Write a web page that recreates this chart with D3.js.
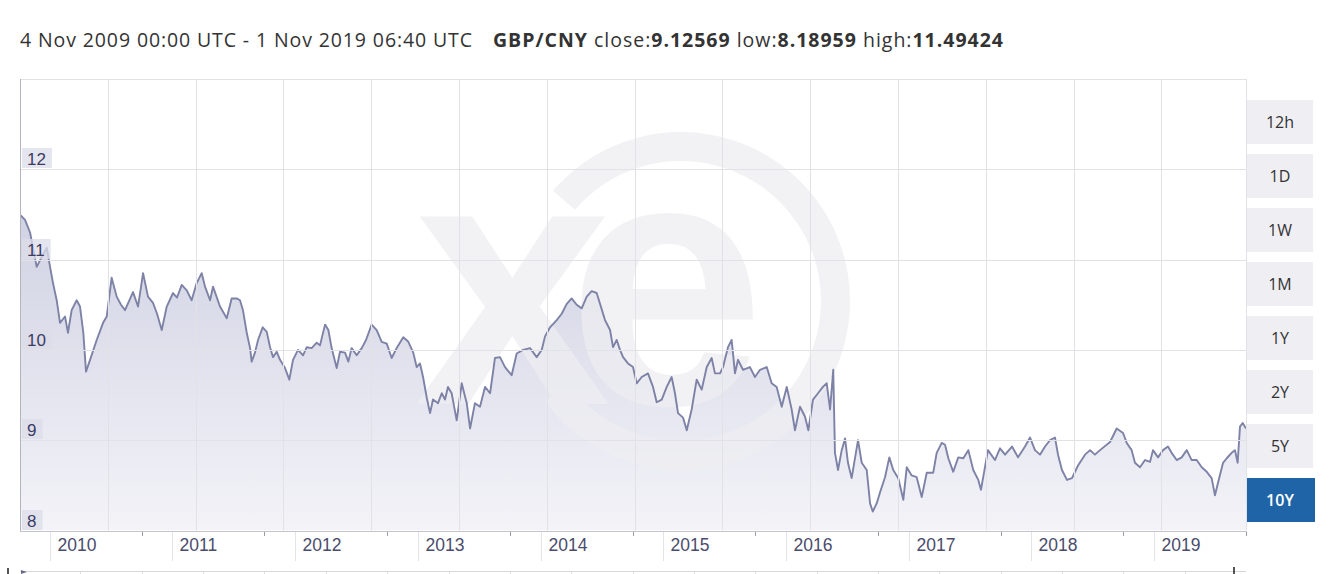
<!DOCTYPE html>
<html>
<head>
<meta charset="utf-8">
<script src="https://cdn.jsdelivr.net/npm/d3@7"></script>
<style>
  html, body { margin: 0; padding: 0; background: #ffffff; }
  svg { display: block; }
</style>
</head>
<body>
<svg id="chart" width="1333" height="574"></svg>
<script>
// ---------------- data ----------------
const pairName = "GBP/CNY";
const rangeLabel = "4 Nov 2009 00:00 UTC - 1 Nov 2019 06:40 UTC";
const statNames = ["close", "low", "high"];
const statValues = ["9.12569", "8.18959", "11.49424"];
const yTickValues = [8, 9, 10, 11, 12];
const yearLabels = [2010, 2011, 2012, 2013, 2014, 2015, 2016, 2017, 2018, 2019];
const periodButtons = ["12h", "1D", "1W", "1M", "1Y", "2Y", "5Y", "10Y"];
const activePeriod = "10Y";
const domainStart = 2009.841; // 4 Nov 2009 (decimal year)
const domainEnd = 2019.833;   // 1 Nov 2019 (decimal year)

// time as decimal year
const times = [
  2009.847, 2009.882, 2009.923, 2009.977, 2010.018, 2010.059, 2010.086, 2010.110, 2010.140, 2010.167,
  2010.208, 2010.232, 2010.262, 2010.303, 2010.330, 2010.357, 2010.379, 2010.412, 2010.466, 2010.518,
  2010.548, 2010.588, 2010.629, 2010.664, 2010.697, 2010.762, 2010.803, 2010.844, 2010.884, 2010.925,
  2010.958, 2010.996, 2011.037, 2011.088, 2011.121, 2011.159, 2011.200, 2011.240, 2011.281, 2011.322,
  2011.349, 2011.390, 2011.414, 2011.471, 2011.526, 2011.566, 2011.607, 2011.634, 2011.658, 2011.689,
  2011.716, 2011.729, 2011.756, 2011.781, 2011.819, 2011.852, 2011.879, 2011.903, 2011.933, 2011.960,
  2012.001, 2012.036, 2012.066, 2012.107, 2012.148, 2012.178, 2012.218, 2012.259, 2012.286, 2012.327,
  2012.354, 2012.381, 2012.422, 2012.449, 2012.490, 2012.517, 2012.544, 2012.585, 2012.626, 2012.661,
  2012.707, 2012.748, 2012.789, 2012.830, 2012.870, 2012.911, 2012.965, 2013.006, 2013.046, 2013.074,
  2013.101, 2013.126, 2013.156, 2013.183, 2013.207, 2013.248, 2013.278, 2013.305, 2013.329, 2013.359,
  2013.400, 2013.441, 2013.482, 2013.509, 2013.549, 2013.590, 2013.631, 2013.672, 2013.712, 2013.753,
  2013.794, 2013.848, 2013.889, 2013.941, 2013.998, 2014.052, 2014.093, 2014.120, 2014.161, 2014.215,
  2014.256, 2014.297, 2014.337, 2014.378, 2014.419, 2014.460, 2014.500, 2014.541, 2014.568, 2014.609,
  2014.650, 2014.674, 2014.704, 2014.731, 2014.756, 2014.796, 2014.837, 2014.867, 2014.908, 2014.959,
  2015.000, 2015.030, 2015.071, 2015.112, 2015.152, 2015.179, 2015.204, 2015.245, 2015.275, 2015.315,
  2015.356, 2015.397, 2015.438, 2015.478, 2015.505, 2015.546, 2015.571, 2015.611, 2015.641, 2015.668,
  2015.693, 2015.733, 2015.790, 2015.831, 2015.872, 2015.927, 2015.967, 2016.008, 2016.049, 2016.090,
  2016.130, 2016.157, 2016.198, 2016.239, 2016.266, 2016.304, 2016.345, 2016.385, 2016.416, 2016.443,
  2016.469, 2016.483, 2016.508, 2016.538, 2016.565, 2016.589, 2016.619, 2016.671, 2016.701, 2016.742,
  2016.769, 2016.791, 2016.823, 2016.850, 2016.891, 2016.926, 2016.958, 2016.999, 2017.040, 2017.068,
  2017.108, 2017.149, 2017.190, 2017.231, 2017.284, 2017.312, 2017.353, 2017.380, 2017.407, 2017.447,
  2017.488, 2017.529, 2017.570, 2017.610, 2017.651, 2017.673, 2017.730, 2017.787, 2017.828, 2017.869,
  2017.926, 2017.975, 2018.032, 2018.073, 2018.113, 2018.154, 2018.195, 2018.236, 2018.276, 2018.301,
  2018.333, 2018.374, 2018.415, 2018.464, 2018.521, 2018.562, 2018.602, 2018.643, 2018.725, 2018.779,
  2018.831, 2018.861, 2018.901, 2018.928, 2018.969, 2019.010, 2019.051, 2019.075, 2019.116, 2019.157,
  2019.197, 2019.227, 2019.268, 2019.309, 2019.350, 2019.390, 2019.431, 2019.472, 2019.513, 2019.553,
  2019.580, 2019.607, 2019.646, 2019.676, 2019.716, 2019.743, 2019.765, 2019.784, 2019.806, 2019.833
];

const rates = [
  11.49, 11.44, 11.30, 10.92, 11.03, 11.13, 10.92, 10.74, 10.55, 10.30,
  10.37, 10.19, 10.44, 10.55, 10.48, 10.19, 9.76, 9.89, 10.11, 10.30,
  10.37, 10.80, 10.59, 10.50, 10.44, 10.64, 10.48, 10.85, 10.59, 10.52,
  10.40, 10.22, 10.48, 10.63, 10.58, 10.72, 10.66, 10.55, 10.74, 10.85,
  10.70, 10.55, 10.70, 10.48, 10.35, 10.57, 10.57, 10.55, 10.44, 10.19,
  10.02, 9.87, 9.97, 10.11, 10.25, 10.20, 10.03, 9.92, 9.98, 9.89,
  9.80, 9.67, 9.89, 10.00, 9.94, 10.03, 10.02, 10.08, 10.05, 10.28,
  10.22, 10.02, 9.80, 9.98, 9.97, 9.87, 10.02, 9.94, 10.02, 10.11,
  10.28, 10.22, 10.09, 10.07, 9.91, 10.02, 10.14, 10.09, 9.97, 9.81,
  9.85, 9.70, 9.47, 9.30, 9.45, 9.41, 9.52, 9.45, 9.59, 9.52,
  9.22, 9.63, 9.41, 9.13, 9.41, 9.37, 9.59, 9.52, 9.91, 9.92,
  9.81, 9.72, 9.96, 10.00, 10.02, 9.92, 10.00, 10.15, 10.25, 10.33,
  10.40, 10.51, 10.57, 10.50, 10.46, 10.59, 10.65, 10.63, 10.51, 10.33,
  10.22, 10.03, 10.11, 10.00, 9.92, 9.85, 9.81, 9.63, 9.70, 9.74,
  9.59, 9.42, 9.45, 9.59, 9.70, 9.52, 9.30, 9.25, 9.11, 9.34,
  9.67, 9.56, 9.81, 9.91, 9.74, 9.74, 9.81, 10.03, 10.11, 9.74,
  9.89, 9.78, 9.81, 9.70, 9.78, 9.81, 9.63, 9.59, 9.37, 9.59,
  9.34, 9.11, 9.37, 9.26, 9.11, 9.45, 9.52, 9.59, 9.63, 9.34,
  9.78, 8.86, 8.67, 8.89, 9.02, 8.75, 8.58, 9.00, 8.75, 8.67,
  8.30, 8.21, 8.30, 8.42, 8.59, 8.81, 8.67, 8.58, 8.34, 8.70,
  8.61, 8.59, 8.37, 8.64, 8.64, 8.86, 8.97, 8.95, 8.80, 8.65,
  8.81, 8.80, 8.89, 8.67, 8.56, 8.45, 8.89, 8.78, 8.91, 8.84,
  8.93, 8.81, 8.93, 9.03, 8.89, 8.84, 8.93, 9.00, 9.03, 8.84,
  8.67, 8.56, 8.58, 8.72, 8.84, 8.89, 8.84, 8.89, 8.98, 9.13,
  9.08, 8.97, 8.89, 8.75, 8.70, 8.78, 8.76, 8.89, 8.81, 8.89,
  8.93, 8.86, 8.78, 8.81, 8.89, 8.78, 8.78, 8.70, 8.65, 8.58,
  8.39, 8.54, 8.75, 8.80, 8.86, 8.89, 8.75, 9.15, 9.19, 9.13
];

// ---------------- layout ----------------
const svg = d3.select("#chart");
const plot = { left: 20, right: 1246, top: 79, bottom: 530.5 };
const gridStep = 87.8;

const x = d3.scaleLinear().domain([domainStart, domainEnd]).range([plot.left, plot.right]);
const y = d3.scaleLinear().domain([8, 13]).range([plot.bottom, plot.top]);

const data = times.map((t, i) => ({ t, v: rates[i] }));

// defs
const defs = svg.append("defs");
const grad = defs.append("linearGradient").attr("id", "areaGrad")
  .attr("gradientUnits", "userSpaceOnUse").attr("x1", 0).attr("x2", 0).attr("y1", 200).attr("y2", plot.bottom);
grad.append("stop").attr("offset", 0).attr("stop-color", "#cfd1e2");
grad.append("stop").attr("offset", 1).attr("stop-color", "#f3f3f8");
defs.append("clipPath").attr("id", "plotClip").append("rect")
  .attr("x", plot.left).attr("y", plot.top).attr("width", plot.right - plot.left).attr("height", plot.bottom - plot.top);

// title
const titleFont = "'Open Sans', sans-serif";
svg.append("text").attr("x", 20).attr("y", 47)
  .attr("font-family", titleFont).attr("font-size", 19.5).attr("fill", "#333")
  .attr("textLength", 452).attr("lengthAdjust", "spacing")
  .text(rangeLabel);
const title2 = svg.append("text").attr("x", 493).attr("y", 47)
  .attr("font-family", titleFont).attr("font-size", 19.5).attr("fill", "#333")
  .attr("textLength", 510).attr("lengthAdjust", "spacing");
title2.append("tspan").attr("font-weight", 700).text(pairName);
statNames.forEach((n, i) => {
  title2.append("tspan").text(" " + n + ":");
  title2.append("tspan").attr("font-weight", 700).text(statValues[i]);
});

// area + line
const g = svg.append("g").attr("clip-path", "url(#plotClip)");
const area = d3.area().x(d => x(d.t)).y0(plot.bottom).y1(d => y(d.v));
const line = d3.line().x(d => x(d.t)).y(d => y(d.v));

g.append("path").datum(data).attr("d", area).attr("fill", "url(#areaGrad)");

// watermark (xe logo)
const wm = g.append("g").attr("fill", "#eeeef2").attr("opacity", 0.72);
wm.append("path")
  .attr("transform", "translate(681,301)")
  .attr("d", d3.arc().innerRadius(140).outerRadius(169).startAngle(-0.86).endAngle(4.08)());
wm.append("text").attr("x", 414).attr("y", 404)
  .attr("font-family", "'Liberation Sans', Arial, sans-serif").attr("font-weight", 700)
  .attr("font-size", 355).attr("letter-spacing", -44).text("xe");

// grid
const grid = svg.append("g").attr("stroke", "#e2e2e6").attr("stroke-width", 1);
grid.selectAll("line.h").data(yTickValues.concat([13])).enter().append("line")
  .attr("x1", plot.left).attr("x2", plot.right)
  .attr("y1", d => Math.round(y(d)) + 0.5).attr("y2", d => Math.round(y(d)) + 0.5);
grid.selectAll("line.v").data(d3.range(1, 14)).enter().append("line")
  .attr("y1", plot.top).attr("y2", plot.bottom)
  .attr("x1", d => Math.round(plot.left + d * gridStep) + 0.5)
  .attr("x2", d => Math.round(plot.left + d * gridStep) + 0.5);
grid.append("line").attr("x1", plot.right + 0.5).attr("x2", plot.right + 0.5)
  .attr("y1", plot.top).attr("y2", plot.bottom);

// line
g.append("path").datum(data).attr("d", line).attr("fill", "none")
  .attr("stroke", "#7d82a6").attr("stroke-width", 1.9).attr("stroke-linejoin", "round");

// borders
svg.append("line").attr("x1", plot.left + 0.5).attr("x2", plot.left + 0.5)
  .attr("y1", plot.top).attr("y2", plot.bottom + 1).attr("stroke", "#b4b4bc");
svg.append("line").attr("x1", plot.left).attr("x2", plot.right + 1)
  .attr("y1", 531.5).attr("y2", 531.5).attr("stroke", "#c4c4cc");

// y labels
const yl = svg.append("g").attr("font-family", "'Liberation Sans', Arial, sans-serif")
  .attr("font-size", 17);
yTickValues.forEach(v => {
  const yy = Math.round(y(v));
  const txt = yl.append("text").attr("x", 27).attr("y", yy - 4).attr("fill", "#3a3c62").text(v);
  const w = txt.node().getComputedTextLength();
  yl.insert("rect", "text").attr("x", 22).attr("y", yy - 21).attr("width", w + 11).attr("height", 20)
    .attr("fill", "#dcdcea").attr("opacity", 0.75);
});

// x axis (year labels)
const xa = svg.append("g");
yearLabels.forEach(yr => {
  const xx = Math.round(x(yr + 1 / 12)) + 0.5;
  xa.append("line").attr("x1", xx).attr("x2", xx).attr("y1", 532).attr("y2", 561).attr("stroke", "#e4e4e8");
  xa.append("text").attr("x", xx + 7).attr("y", 551)
    .attr("font-family", "'Liberation Sans', Arial, sans-serif").attr("font-size", 17.5)
    .attr("fill", "#4a4c6c").text(yr);
});
d3.range(2010, 2020).forEach(yr => {
  const xx = Math.round(x(yr + 10 / 12)) + 0.5;
  if (xx <= plot.right + 1) {
    xa.append("line").attr("x1", xx).attr("x2", xx).attr("y1", 532).attr("y2", 536).attr("stroke", "#9a9cb0");
  }
});

// navigator strip (top edge only visible)
const nav = svg.append("g");
nav.append("line").attr("x1", 20).attr("x2", 1246).attr("y1", 571.5).attr("y2", 571.5).attr("stroke", "#d6d6dc");
d3.range(2010, 2020).forEach(yr => {
  [yr + 4 / 12, yr + 10 / 12].forEach(t => {
    const xx = Math.round(x(t)) + 0.5;
    if (xx < plot.right) nav.append("line").attr("x1", xx).attr("x2", xx).attr("y1", 572).attr("y2", 574).attr("stroke", "#dcdce2");
  });
});
nav.append("rect").attr("x", 7).attr("y", 568).attr("width", 2).attr("height", 6).attr("fill", "#555");
nav.append("path").attr("d", "M21,570 L27,572 L21,574 Z").attr("fill", "#6a6d8a");
nav.append("rect").attr("x", 1233).attr("y", 567).attr("width", 2).attr("height", 7).attr("fill", "#555");

// period buttons
const btn = svg.append("g").attr("font-family", "'Open Sans', sans-serif").attr("font-size", 16);
periodButtons.forEach((p, i) => {
  const by = 100 + i * 54;
  const active = p === activePeriod;
  btn.append("rect").attr("x", 1247).attr("y", by).attr("width", active ? 68 : 66).attr("height", 44)
    .attr("fill", active ? "#1f64a7" : "#eeeef3");
  btn.append("text").attr("x", 1280).attr("y", by + 28).attr("text-anchor", "middle")
    .attr("fill", active ? "#ffffff" : "#333").attr("font-weight", active ? 600 : 400).text(p);
});
</script>
</body>
</html>
